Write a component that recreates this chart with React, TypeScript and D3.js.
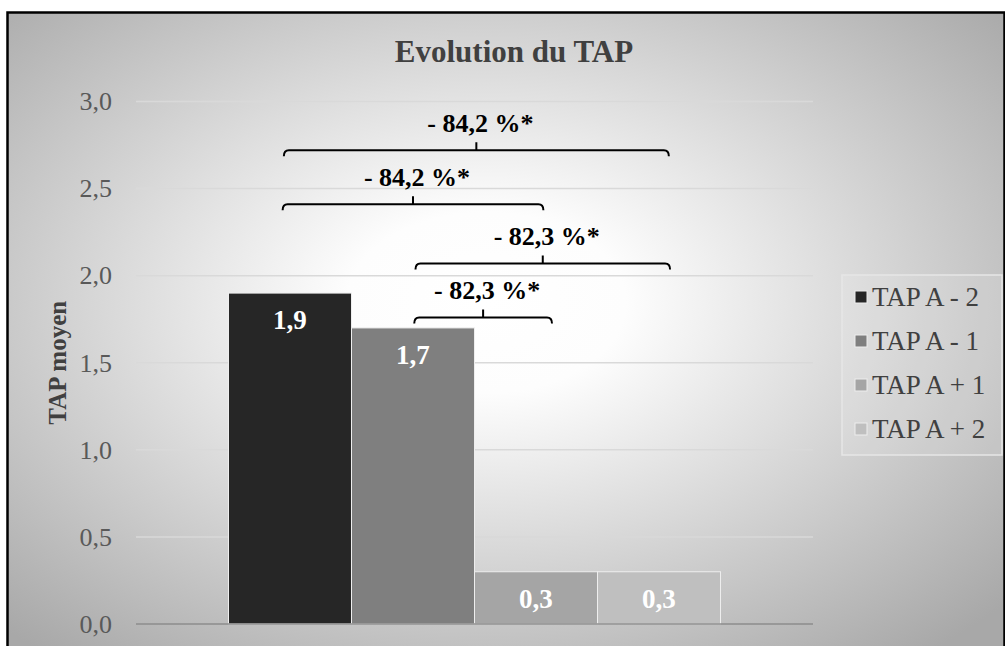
import React, { useRef, useEffect } from 'react';
import * as d3 from 'd3';

const categories = ['TAP moyen'];
const seriesNames = ['TAP A - 2', 'TAP A - 1', 'TAP A + 1', 'TAP A + 2'];
const seriesValues = [1.9, 1.7, 0.3, 0.3];
const valueLabels = ['1,9', '1,7', '0,3', '0,3'];
const yTicks = [0, 0.5, 1, 1.5, 2, 2.5, 3];

// significance brackets (positions in bar units across the group, level in y units)
const bracketLabels = ['- 84,2 %*', '- 84,2 %*', '- 82,3 %*', '- 82,3 %*'];
const bracketFrom = [0.45, 0.44, 1.52, 1.51];
const bracketTo = [3.58, 2.56, 3.59, 2.63];
const bracketLevel = [2.72, 2.41, 2.07, 1.76];

const colors = ['#262626', '#7f7f7f', '#a5a5a5', '#bfbfbf'];
const FONT = '"Liberation Serif", "Times New Roman", serif';

const App = () => {
  const ref = useRef(null);

  useEffect(() => {
    if (!ref.current) return;
    const svg = d3.select(ref.current);
    svg.selectAll('*').remove();

    const W = 1005;
    const H = 646;

    // background
    const defs = svg.append('defs');
    const grad = defs
      .append('radialGradient')
      .attr('id', 'bg')
      .attr('cx', 0.48)
      .attr('cy', 0.45)
      .attr('r', 0.7);
    grad.append('stop').attr('offset', 0).attr('stop-color', '#ffffff');
    grad.append('stop').attr('offset', 0.2).attr('stop-color', '#fdfdfd');
    grad.append('stop').attr('offset', 1).attr('stop-color', '#a8a8a8');

    svg
      .append('rect')
      .attr('x', 0)
      .attr('y', 0)
      .attr('width', W)
      .attr('height', H)
      .attr('fill', '#ffffff');

    svg
      .append('rect')
      .attr('x', 7.5)
      .attr('y', 12.5)
      .attr('width', 997)
      .attr('height', 645)
      .attr('fill', 'url(#bg)')
      .attr('stroke', '#000')
      .attr('stroke-width', 2.5);

    // scales
    const x0 = d3
      .scaleBand()
      .domain(categories)
      .range([136, 813])
      .paddingInner(0)
      .paddingOuter(0.188);
    const x1 = d3
      .scaleBand()
      .domain(seriesNames)
      .range([0, x0.bandwidth()]);
    const y = d3.scaleLinear().domain([0, 3]).range([624, 101.5]);

    const groupStart = x0(categories[0]);
    const xb = d3
      .scaleLinear()
      .domain([0, seriesNames.length])
      .range([groupStart, groupStart + x0.bandwidth()]);

    // gridlines
    svg
      .append('g')
      .selectAll('line')
      .data(yTicks.filter((d) => d > 0))
      .enter()
      .append('line')
      .attr('x1', 136)
      .attr('x2', 813)
      .attr('y1', (d) => y(d))
      .attr('y2', (d) => y(d))
      .attr('stroke', '#d9d9d9')
      .attr('stroke-width', 1.5);

    // y axis
    const fmt = (d) => d3.format('.1f')(d).replace('.', ',');
    const yAxis = d3
      .axisLeft(y)
      .tickValues(yTicks)
      .tickFormat(fmt)
      .tickSize(0)
      .tickPadding(24);
    const yAxisGroup = svg.append('g').attr('transform', 'translate(136,0)').call(yAxis);
    yAxisGroup.select('.domain').remove();
    yAxisGroup
      .selectAll('text')
      .attr('font-family', FONT)
      .attr('font-size', 26)
      .attr('fill', '#595959');

    // bars
    const bars = svg.append('g').attr('transform', `translate(${groupStart},0)`);
    bars
      .selectAll('rect')
      .data(seriesValues)
      .enter()
      .append('rect')
      .attr('x', (d, i) => x1(seriesNames[i]))
      .attr('y', (d) => y(d))
      .attr('width', x1.bandwidth())
      .attr('height', (d) => y(0) - y(d))
      .attr('fill', (d, i) => colors[i])
      .attr('stroke', '#eeeeee')
      .attr('stroke-width', 1);

    // zero line
    svg
      .append('line')
      .attr('x1', 136)
      .attr('x2', 813)
      .attr('y1', y(0))
      .attr('y2', y(0))
      .attr('stroke', '#8c8c8c')
      .attr('stroke-width', 1.5);

    bars
      .selectAll('text')
      .data(seriesValues)
      .enter()
      .append('text')
      .attr('x', (d, i) => x1(seriesNames[i]) + x1.bandwidth() / 2)
      .attr('y', (d) => y(d) + 36)
      .attr('text-anchor', 'middle')
      .attr('font-family', FONT)
      .attr('font-weight', 'bold')
      .attr('font-size', 27)
      .attr('fill', '#ffffff')
      .text((d, i) => valueLabels[i]);

    // brackets
    const br = svg.append('g');
    bracketLabels.forEach((label, i) => {
      const xa = xb(bracketFrom[i]);
      const xz = xb(bracketTo[i]);
      const xm = (xa + xz) / 2;
      const yb = y(bracketLevel[i]);
      br.append('path')
        .attr(
          'd',
          `M${xa},${yb + 6} Q${xa},${yb} ${xa + 5},${yb} L${xz - 5},${yb} Q${xz},${yb} ${xz},${yb + 6}` +
            ` M${xm},${yb} L${xm},${yb - 8}`
        )
        .attr('fill', 'none')
        .attr('stroke', '#000')
        .attr('stroke-width', 2);
      br.append('text')
        .attr('x', xm + 4)
        .attr('y', yb - 18)
        .attr('text-anchor', 'middle')
        .attr('font-family', FONT)
        .attr('font-weight', 'bold')
        .attr('font-size', 26)
        .attr('fill', '#000')
        .text(label);
    });

    // title
    svg
      .append('text')
      .attr('x', 514)
      .attr('y', 62)
      .attr('text-anchor', 'middle')
      .attr('font-family', FONT)
      .attr('font-weight', 'bold')
      .attr('font-size', 31)
      .attr('fill', '#404040')
      .text('Evolution du TAP');

    // y axis title
    svg
      .append('text')
      .attr('transform', `translate(66,${(y(0) + y(3)) / 2}) rotate(-90)`)
      .attr('text-anchor', 'middle')
      .attr('font-family', FONT)
      .attr('font-weight', 'bold')
      .attr('font-size', 25)
      .attr('fill', '#404040')
      .text('TAP moyen');

    // legend
    const legend = svg.append('g');
    legend
      .append('rect')
      .attr('x', 842)
      .attr('y', 275)
      .attr('width', 160)
      .attr('height', 180)
      .attr('fill', 'rgba(255,255,255,0.12)')
      .attr('stroke', '#e6e6e6')
      .attr('stroke-width', 1.5);
    const items = legend
      .selectAll('g.item')
      .data(seriesNames)
      .enter()
      .append('g')
      .attr('class', 'item')
      .attr('transform', (d, i) => `translate(855,${297 + i * 44})`);
    items
      .append('rect')
      .attr('x', 0)
      .attr('y', -6)
      .attr('width', 12)
      .attr('height', 12)
      .attr('fill', (d, i) => colors[i])
      .attr('stroke', '#eeeeee')
      .attr('stroke-width', 1);
    items
      .append('text')
      .attr('x', 17)
      .attr('y', 9)
      .attr('font-family', FONT)
      .attr('font-size', 27)
      .attr('fill', '#404040')
      .text((d) => d);
  }, []);

  return (
    <svg
      ref={ref}
      width={1005}
      height={646}
      style={{ position: 'absolute', left: 0, top: 0, display: 'block' }}
    />
  );
};

export default App;
